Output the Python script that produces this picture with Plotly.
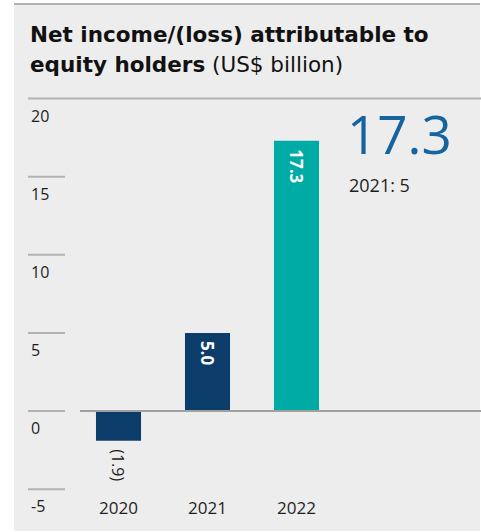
import plotly.graph_objects as go

# Net income/(loss) attributable to equity holders, US$ billion
years = ["2020", "2021", "2022"]
values = [-1.9, 5.0, 17.3]
bar_colors = ["#0c3c69", "#0c3c69", "#00aba6"]
y_ticks = [20, 15, 10, 5, 0, -5]

W, H = 481, 532
FONT = "Open Sans"
TITLE_FONT = "DejaVu Sans"
DARK = "#1e1e1e"
GRID = "#b3b3b3"


def px_x(p):
    return p / W


def px_y(p):
    return 1 - p / H


def fmt(v):
    return f"({abs(v):.1f})" if v < 0 else f"{v:.1f}"


x_pos = list(range(len(years)))

fig = go.Figure(
    go.Bar(
        x=x_pos,
        y=values,
        width=0.506,
        marker=dict(color=bar_colors, line=dict(width=0)),
        hoverinfo="skip",
    )
)

shapes = [
    # panel background and top rule
    dict(type="rect", xref="paper", yref="paper", x0=px_x(14), x1=px_x(480),
         y0=px_y(531), y1=px_y(4), fillcolor="#ededed", line=dict(width=0), layer="below"),
    dict(type="line", xref="paper", yref="paper", x0=px_x(14), x1=px_x(480),
         y0=px_y(4), y1=px_y(4), line=dict(color="#b0b0b0", width=2), layer="below"),
]
annotations = []

for t in y_ticks:
    if t == max(y_ticks):
        x0, x1 = px_x(28), 1
    else:
        x0, x1 = px_x(28), px_x(65)
    shapes.append(dict(type="line", xref="paper", yref="y", x0=x0, x1=x1, y0=t, y1=t,
                       line=dict(color=GRID, width=2), layer="below"))
    annotations.append(dict(xref="paper", yref="y", x=px_x(29), y=t, text=str(t),
                            xanchor="left", yanchor="top", yshift=-4, showarrow=False,
                            font=dict(family=FONT, size=16, color=DARK)))

# zero baseline across the bars
shapes.append(dict(type="line", xref="paper", yref="y", x0=px_x(80), x1=1, y0=0, y1=0,
                   line=dict(color="#a0a0a0", width=2), layer="above"))

for i, (yr, v) in enumerate(zip(years, values)):
    annotations.append(dict(xref="x", yref="paper", x=i, y=px_y(507), text=yr,
                            xanchor="center", yanchor="middle", showarrow=False,
                            font=dict(family=FONT, size=17, color=DARK)))
    if v >= 0:
        annotations.append(dict(xref="x", yref="y", x=i, y=v, text=f"<b>{fmt(v)}</b>",
                                textangle=90, xanchor="center", yanchor="top", yshift=-6,
                                showarrow=False,
                                font=dict(family=FONT, size=17, color="white")))
    else:
        annotations.append(dict(xref="x", yref="y", x=i, y=v, text=fmt(v),
                                textangle=90, xanchor="center", yanchor="top", yshift=-6,
                                showarrow=False,
                                font=dict(family=FONT, size=16, color=DARK)))

# headline figure
annotations.append(dict(xref="paper", yref="paper", x=px_x(345), y=px_y(133), text=f"{values[-1]:.1f}",
                        xanchor="left", yanchor="middle", showarrow=False,
                        font=dict(family=FONT, size=53, color="#15649f")))
annotations.append(dict(xref="paper", yref="paper", x=px_x(347), y=px_y(185),
                        text=f"{years[-2]}: {values[-2]:g}",
                        xanchor="left", yanchor="middle", showarrow=False,
                        font=dict(family=FONT, size=18, color=DARK)))

# title
annotations.append(dict(xref="paper", yref="paper", x=px_x(28), y=px_y(34),
                        text="<b>Net income/(loss) attributable to</b>",
                        xanchor="left", yanchor="middle", showarrow=False,
                        font=dict(family=TITLE_FONT, size=21.5, color="#111111")))
annotations.append(dict(xref="paper", yref="paper", x=px_x(28), y=px_y(65),
                        text="<b>equity holders</b> (US$ billion)",
                        xanchor="left", yanchor="middle", showarrow=False,
                        font=dict(family=TITLE_FONT, size=21.5, color="#111111")))

fig.update_layout(
    width=W, height=H,
    margin=dict(l=0, r=0, t=0, b=0),
    paper_bgcolor="white",
    plot_bgcolor="rgba(0,0,0,0)",
    showlegend=False,
    xaxis=dict(range=[-118.5 / 89, (W - 118.5) / 89], visible=False, fixedrange=True),
    yaxis=dict(range=[-(H - 411) / 15.625, 411 / 15.625], visible=False, fixedrange=True),
    shapes=shapes,
    annotations=annotations,
)

fig.write_html("out.html", config={"displayModeBar": False})
